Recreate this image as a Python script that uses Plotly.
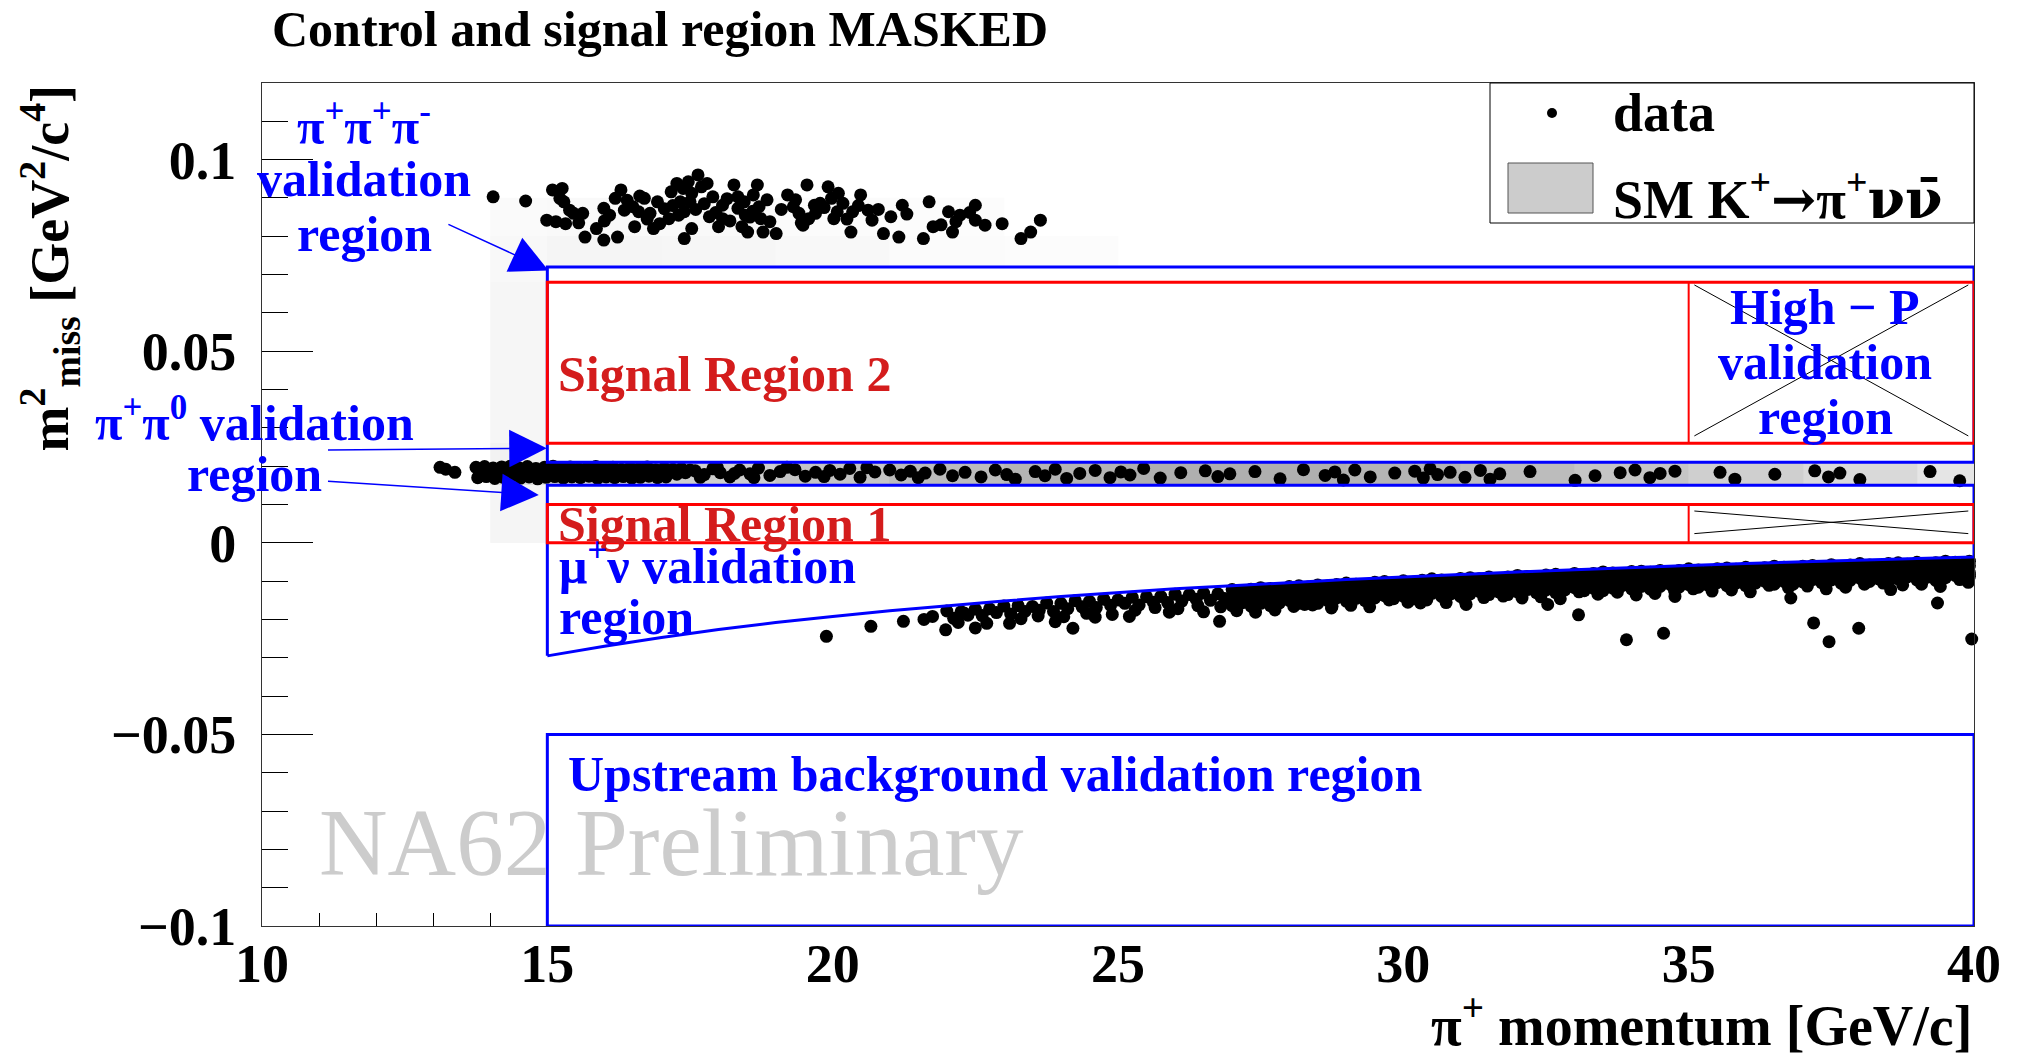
import plotly.graph_objects as go

# ---------------- axes ----------------
x_range = [10, 40]
y_range = [-0.1, 0.12]
x_tickvals = [10, 15, 20, 25, 30, 35, 40]
x_ticktext = ["10", "15", "20", "25", "30", "35", "40"]
x_minor_tickvals = [11, 12, 13, 14]
y_tickvals = [-0.1, -0.05, 0, 0.05, 0.1]
y_ticktext = ["\u22120.1", "\u22120.05", "0", "0.05", "0.1"]

# ---------------- data: K -> 3pi cluster ----------------
tp_p = [14.05,14.62,15.09,15.26,15.22,15.29,15.39,14.99,15.15,15.32,
        15.46,15.62,15.66,15.86,15.99,16.23,15.99,16.09,16.19,16.29,
        16.40,16.50,16.60,16.53,16.70,16.80,16.93,16.97,17.13,17.17,
        17.27,17.33,17.30,17.40,17.47,17.53,17.64,17.70,17.80,17.90,
        17.84,17.53,17.40,18.07,18.27,18.34,18.34,18.41,18.51,18.61,
        18.68,18.71,18.74,18.78,19.01,19.21,19.31,19.41,19.55,19.58,
        19.68,19.78,19.92,19.98,20.08,20.18,20.32,20.35,20.49,20.62,
        20.69,20.89,21.02,21.16,21.22,21.59,21.69,21.76,22.03,22.10,
        22.16,22.23,22.50,22.50,22.67,22.97,23.30,23.47,23.64,
        17.50,18.07,18.47,16.86,18.00,20.02,19.48,
        16.35,16.62,16.75,17.05,17.20,17.38,17.60,17.75,17.95,18.15,
        18.20,18.45,18.55,18.60,18.85,18.90,19.10,19.35,19.45,19.70,
        19.85,20.10,20.25,20.45,20.80,21.30,21.90,22.40,16.00,15.55]
tp_m2 = [0.0903,0.0892,0.0921,0.0925,0.0899,0.0890,0.0868,0.0842,0.0838,0.0833,
         0.0860,0.0860,0.0798,0.0820,0.0790,0.0798,0.0873,0.0855,0.0899,0.0921,
         0.0894,0.0877,0.0864,0.0825,0.0899,0.0860,0.0890,0.0833,0.0846,0.0916,
         0.0938,0.0890,0.0855,0.0864,0.0942,0.0912,0.0960,0.0929,0.0938,0.0903,
         0.0851,0.0820,0.0794,0.0846,0.0934,0.0903,0.0873,0.0825,0.0811,0.0908,
         0.0934,0.0877,0.0846,0.0811,0.0807,0.0908,0.0877,0.0860,0.0934,0.0846,
         0.0881,0.0886,0.0929,0.0899,0.0864,0.0886,0.0811,0.0864,0.0908,0.0868,
         0.0842,0.0807,0.0851,0.0798,0.0881,0.0794,0.0890,0.0825,0.0864,0.0811,
         0.0838,0.0855,0.0881,0.0842,0.0829,0.0833,0.0794,0.0811,0.0842,
         0.0890,0.0881,0.0855,0.0820,0.0825,0.0846,0.0829,
         0.0868,0.0905,0.0845,0.0872,0.0880,0.0925,0.0870,0.0885,0.0862,0.0898,
         0.0840,0.0890,0.0850,0.0865,0.0895,0.0838,0.0870,0.0895,0.0835,0.0860,
         0.0875,0.0912,0.0845,0.0880,0.0870,0.0858,0.0830,0.0862,0.0840,0.0835]

# ---------------- data: K -> pi+ pi0 band ----------------
pp_iso_p = [13.12, 13.22, 13.38]
pp_iso_m2 = [0.0197, 0.0192, 0.0184]
pp_a_p = [13.75,13.9,14.05,14.2,14.35,14.5,14.65,14.8,14.95,15.1,15.25,15.4,15.55,
          15.7,15.85,16.0,16.15,16.3,16.45,16.6,16.75,16.9,17.05,17.2,17.35,17.5]
pp_a_m2 = [0.0197,0.0199,0.0195,0.0198,0.0200,0.0196,0.0199,0.0194,0.0197,0.0200,0.0195,0.0198,0.0193,
           0.0196,0.0199,0.0194,0.0197,0.0192,0.0196,0.0193,0.0198,0.0191,0.0195,0.0192,0.0194,0.0190]
pp_b_p = [13.82,13.97,14.12,14.27,14.42,14.57,14.72,14.87,15.02,15.17,15.32,15.47,15.62,
          15.77,15.92,16.07,16.22,16.37,16.52,16.67,16.82,16.97,17.12,17.27,17.42]
pp_b_m2 = [0.0185,0.0182,0.0186,0.0183,0.0181,0.0185,0.0183,0.0186,0.0182,0.0184,0.0181,0.0185,0.0183,
           0.0180,0.0184,0.0182,0.0186,0.0181,0.0183,0.0185,0.0180,0.0184,0.0182,0.0179,0.0183]
pp_c_p = [13.78,13.93,14.08,14.23,14.38,14.53,14.68,14.83,14.98,15.13,15.28,15.43,
          15.58,15.73,15.88,16.03,16.18,16.33,16.48,16.63,16.78,16.93,17.08]
pp_c_m2 = [0.0170,0.0173,0.0168,0.0171,0.0174,0.0169,0.0172,0.0167,0.0171,0.0173,0.0169,0.0172,
           0.0170,0.0174,0.0168,0.0172,0.0170,0.0173,0.0169,0.0171,0.0174,0.0170,0.0172]
pp_mid_p = [17.59,17.75,17.9,18.03,18.2,18.37,18.55,18.7,18.9,19.08,19.34,19.52,
            19.7,19.95,20.13,20.3,20.48,20.74,21.0,21.2,21.36,21.62,21.88,22.1,
            17.68,17.98,18.28,18.62,19.2,19.85,20.6,21.5]
pp_mid_m2 = [0.0188,0.0178,0.0193,0.0183,0.0172,0.0190,0.0180,0.0195,0.0176,0.0186,0.0191,0.0174,
             0.0184,0.0189,0.0179,0.0194,0.0171,0.0185,0.0190,0.0177,0.0187,0.0182,0.0192,0.0175,
             0.0171,0.0196,0.0181,0.0170,0.0197,0.0173,0.0196,0.0170]
pp_hi_p = [22.32,22.6,22.85,23.05,23.2,23.55,23.72,23.9,24.1,24.33,
           24.6,24.86,25.05,25.21,25.45,25.74,26.1,26.53,26.75,26.96,
           27.4,27.84,28.25,28.63,28.8,28.95,29.15,29.42,29.85,30.2,
           30.35,30.47,30.6,30.82,31.08,31.35,31.52,31.69,32.22,33.01,
           33.36,33.8,34.06,34.32,34.5,34.76,35.55,35.81,36.51,37.21,
           37.45,37.65,38.0,39.23,39.75]
pp_hi_m2 = [0.0184,0.0172,0.0190,0.0178,0.0166,0.0186,0.0175,0.0192,0.0168,0.0181,
            0.0189,0.0170,0.0185,0.0177,0.0194,0.0169,0.0183,0.0188,0.0173,0.0180,
            0.0186,0.0167,0.0191,0.0176,0.0185,0.0164,0.0190,0.0172,0.0182,0.0187,
            0.0169,0.0193,0.0178,0.0184,0.0171,0.0189,0.0166,0.0180,0.0186,0.0163,
            0.0175,0.0183,0.0190,0.0170,0.0181,0.0187,0.0184,0.0166,0.0179,0.0188,
            0.0172,0.0182,0.0165,0.0186,0.0162]

# ---------------- data: K -> mu nu band ----------------
mu_sparse_p = [19.89,20.67,21.24,21.6,21.75,21.98,22.3,24.21,26.78,28.27,28.74,30.3,31.1,
               32.53,33.07,33.91,34.56,34.76,36.79,37.19,37.46,37.98,38.54,39.36,39.96]
mu_sparse_m2 = [-0.0244,-0.0218,-0.0205,-0.0200,-0.0192,-0.0227,-0.0183,-0.0223,-0.0205,-0.0161,-0.0170,-0.0157,-0.0161,
                -0.0161,-0.0188,-0.0253,-0.0236,-0.0140,-0.0144,-0.0209,-0.0258,-0.0223,-0.0122,-0.0157,-0.0251]
mu_mid1_p = [22.0,22.25,22.5,22.75,23.0,23.25,23.5,23.75,24.0,24.25,
             24.5,24.75,25.0,25.25,25.5,25.75,26.0,26.25,26.5,26.75]
mu_mid1_m2 = [-0.0178,-0.0180,-0.0173,-0.0172,-0.0165,-0.0164,-0.0166,-0.0157,-0.0158,-0.0151,
              -0.0153,-0.0147,-0.0149,-0.0142,-0.0141,-0.0140,-0.0134,-0.0135,-0.0131,-0.0133]
mu_mid2_p = [22.12,22.37,22.62,22.87,23.12,23.37,23.62,23.87,24.12,24.37,
             24.62,24.87,25.12,25.37,25.62,25.87,26.12,26.37,26.62,26.87]
mu_mid2_m2 = [-0.0197,-0.0189,-0.0190,-0.0182,-0.0186,-0.0179,-0.0176,-0.0179,-0.0172,-0.0167,
              -0.0169,-0.0163,-0.0158,-0.0162,-0.0155,-0.0156,-0.0152,-0.0147,-0.0150,-0.0145]
mu_mid3_p = [22.2,22.7,23.3,23.6,24.05,24.45,24.9,25.3,25.65,26.05,26.4,26.8]
mu_mid3_m2 = [-0.0208,-0.0210,-0.0198,-0.0191,-0.0193,-0.0184,-0.0187,-0.0176,-0.0169,-0.0172,-0.0164,-0.0167]
mu_mid4_p = [22.5,23.1,23.9,24.6,25.2,25.9,26.5]
mu_mid4_m2 = [-0.0222,-0.0210,-0.0206,-0.0194,-0.0192,-0.0181,-0.0180]
mu_dense_p = [27.0,27.17,27.33,27.5,27.67,27.83,28.0,28.17,28.33,28.5,28.67,28.83,29.0,29.17,29.33,
              29.5,29.67,29.83,30.0,30.17,30.33,30.5,30.67,30.83,31.0,31.17,31.33,31.5,31.67,31.83,
              32.0,32.17,32.33,32.5,32.67,32.83,33.0,33.17,33.33,33.5,33.67,33.83,34.0,34.17,34.33,
              34.5,34.67,34.83,35.0,35.17,35.33,35.5,35.67,35.83,36.0,36.17,36.33,36.5,36.67,36.83,
              37.0,37.17,37.33,37.5,37.67,37.83,38.0,38.17,38.33,38.5,38.67,38.83,39.0,39.17,39.33,
              39.5,39.67,39.83,39.92]
mu_dense_m2_1 = [-0.0122,-0.0125,-0.0121,-0.0117,-0.0119,-0.0121,-0.0114,-0.0112,-0.0115,-0.0110,
                 -0.0113,-0.0109,-0.0105,-0.0108,-0.0109,-0.0103,-0.0101,-0.0104,-0.0099,-0.0103,
                 -0.0098,-0.0094,-0.0097,-0.0099,-0.0093,-0.0091,-0.0094,-0.0089,-0.0093,-0.0089,
                 -0.0085,-0.0088,-0.0090,-0.0084,-0.0082,-0.0085,-0.0080,-0.0084,-0.0080,-0.0076,
                 -0.0079,-0.0081,-0.0075,-0.0074,-0.0077,-0.0072,-0.0076,-0.0072,-0.0068,-0.0071,
                 -0.0074,-0.0068,-0.0066,-0.0069,-0.0064,-0.0068,-0.0065,-0.0061,-0.0064,-0.0066,
                 -0.0061,-0.0059,-0.0062,-0.0057,-0.0062,-0.0058,-0.0054,-0.0058,-0.0060,-0.0054,
                 -0.0052,-0.0056,-0.0051,-0.0055,-0.0052,-0.0048,-0.0051,-0.0054,-0.0048]
mu_dense_m2_2 = [-0.0140,-0.0133,-0.0130,-0.0134,-0.0135,-0.0129,-0.0125,-0.0130,-0.0124,-0.0121,
                 -0.0124,-0.0126,-0.0120,-0.0117,-0.0121,-0.0115,-0.0112,-0.0116,-0.0118,-0.0112,
                 -0.0108,-0.0113,-0.0107,-0.0104,-0.0108,-0.0110,-0.0104,-0.0101,-0.0106,-0.0100,
                 -0.0097,-0.0101,-0.0103,-0.0097,-0.0094,-0.0099,-0.0093,-0.0090,-0.0094,-0.0096,
                 -0.0090,-0.0087,-0.0092,-0.0087,-0.0084,-0.0088,-0.0090,-0.0084,-0.0081,-0.0086,
                 -0.0081,-0.0078,-0.0082,-0.0084,-0.0078,-0.0075,-0.0081,-0.0075,-0.0072,-0.0076,
                 -0.0079,-0.0073,-0.0070,-0.0075,-0.0070,-0.0067,-0.0071,-0.0074,-0.0068,-0.0065,
                 -0.0070,-0.0065,-0.0062,-0.0066,-0.0069,-0.0063,-0.0060,-0.0066,-0.0060]
mu_dense_m2_3 = [-0.0146,-0.0150,-0.0146,-0.0150,-0.0141,-0.0143,-0.0144,-0.0138,-0.0135,-0.0140,
                 -0.0135,-0.0139,-0.0131,-0.0133,-0.0134,-0.0128,-0.0125,-0.0130,-0.0126,-0.0130,
                 -0.0121,-0.0123,-0.0125,-0.0119,-0.0116,-0.0121,-0.0117,-0.0121,-0.0113,-0.0115,
                 -0.0117,-0.0111,-0.0108,-0.0113,-0.0109,-0.0113,-0.0105,-0.0107,-0.0109,-0.0103,
                 -0.0100,-0.0105,-0.0101,-0.0106,-0.0098,-0.0100,-0.0102,-0.0096,-0.0093,-0.0098,
                 -0.0095,-0.0099,-0.0091,-0.0093,-0.0095,-0.0089,-0.0087,-0.0092,-0.0088,-0.0092,
                 -0.0085,-0.0087,-0.0089,-0.0083,-0.0081,-0.0086,-0.0082,-0.0087,-0.0079,-0.0081,
                 -0.0083,-0.0078,-0.0075,-0.0080,-0.0077,-0.0081,-0.0073,-0.0076,-0.0078]
mu_dense_m2_4 = [-0.0164,-0.0157,-0.0165,-0.0158,-0.0164,-0.0157,-0.0150,-0.0158,-0.0151,-0.0158,
                 -0.0150,-0.0144,-0.0152,-0.0145,-0.0151,-0.0144,-0.0138,-0.0146,-0.0139,-0.0146,
                 -0.0138,-0.0132,-0.0140,-0.0133,-0.0140,-0.0133,-0.0127,-0.0135,-0.0128,-0.0135,
                 -0.0128,-0.0122,-0.0130,-0.0123,-0.0130,-0.0123,-0.0117,-0.0125,-0.0118,-0.0125,
                 -0.0118,-0.0112,-0.0120,-0.0114,-0.0121,-0.0114,-0.0108,-0.0116,-0.0109,-0.0116,
                 -0.0110,-0.0104,-0.0112,-0.0105,-0.0112,-0.0105,-0.0100,-0.0108,-0.0101,-0.0108,
                 -0.0102,-0.0096,-0.0104,-0.0097,-0.0105,-0.0098,-0.0092,-0.0101,-0.0094,-0.0101,
                 -0.0094,-0.0089,-0.0097,-0.0090,-0.0098,-0.0091,-0.0085,-0.0094,-0.0087]
mu_low_p = [27.08,27.41,27.75,28.08,28.41,28.75,29.08,29.41,29.75,30.08,30.41,30.75,31.08,31.41,
            31.75,32.08,32.41,32.75,33.08,33.41,33.75,34.08,34.41,34.75,35.08,35.41,35.75,36.08,
            36.41,36.75,37.08,37.41,37.75,38.08,38.41,38.75,39.08,39.41,39.75,39.9]
mu_low_m2 = [-0.0177,-0.0181,-0.0175,-0.0166,-0.0162,-0.0166,-0.0163,-0.0167,-0.0149,-0.0155,
             -0.0149,-0.0156,-0.0151,-0.0143,-0.0139,-0.0144,-0.0141,-0.0146,-0.0128,-0.0134,
             -0.0129,-0.0136,-0.0132,-0.0124,-0.0120,-0.0126,-0.0123,-0.0128,-0.0111,-0.0117,
             -0.0113,-0.0120,-0.0116,-0.0108,-0.0105,-0.0110,-0.0108,-0.0114,-0.0096,-0.0103]

# ---------------- SM K+ -> pi+ nu nubar (2D histogram, masked) ----------------
N = None
sm_p_edges = [14.0, 15.0, 17.0, 19.0, 21.0, 23.0, 25.0, 27.0, 29.0, 31.0, 33.0, 35.0, 37.0, 39.0, 40.0]
sm_m2_edges = [0.0, 0.015, 0.021, 0.026, 0.068, 0.072, 0.080, 0.090]
sm_weight = [
    [0.07, N, N, N, N, N, N, N, N, N, N, N, N, N],
    [0.22, 0.26, 0.33, 0.40, 0.46, 0.52, 0.55, 0.55, 0.52, 0.46, 0.40, 0.33, 0.26, 0.18],
    [0.09, N, N, N, N, N, N, N, N, N, N, N, N, N],
    [0.06, N, N, N, N, N, N, N, N, N, N, N, N, N],
    [0.05, N, N, N, N, N, N, N, N, N, N, N, N, N],
    [0.05, 0.07, 0.06, 0.045, 0.03, 0.02, N, N, N, N, N, N, N, N],
    [0.035, 0.04, 0.04, 0.03, 0.02, N, N, N, N, N, N, N, N, N],
]

# ---------------- regions ----------------
p_lo, p_hi, p_highp = 15, 40, 35
sr1_m2 = [0.0, 0.010]
sr2_m2 = [0.026, 0.068]
upper_val_box_m2 = [0.021, 0.072]
mu_box_top_m2 = 0.015
upstream_m2 = [-0.1, -0.05]
mu_curve_p = [15,16,17,18,19,20,21,22,23,24,25,26,27,28,29,30,31,32,33,34,35,36,37,38,39,40]
mu_curve_m2 = [-0.0295,-0.0270,-0.0247,-0.0226,-0.0208,-0.0192,-0.0177,-0.0164,-0.0152,-0.0140,
               -0.0130,-0.0120,-0.0112,-0.0103,-0.0096,-0.0089,-0.0082,-0.0076,-0.0070,-0.0064,
               -0.0059,-0.0054,-0.0050,-0.0045,-0.0041,-0.0037]
cross_p = [35.1, 39.9]
cross_sr2_m2 = [0.0673, 0.0279]
cross_sr1_m2 = [0.0083, 0.0024]

# arrows: (tail_p, tail_m2, head_p, head_m2)
arrows = [
    (13.24, 0.0833, 15.02, 0.0711),
    (11.13, 0.0242, 14.99, 0.0247),
    (11.13, 0.0161, 14.85, 0.0125),
]

FONT = "Liberation Serif"
SYM = "DejaVu Serif"
BLUE = "#0000ff"
RED = "#ff0000"
RED_TEXT = "#d41c1c"


def px(xp):
    return (xp - 262) / 1712


def py(yp):
    return (926 - yp) / 843


fig = go.Figure()

fig.add_trace(go.Heatmap(
    x=sm_p_edges, y=sm_m2_edges, z=sm_weight,
    colorscale=[[0, "#ffffff"], [1, "#6e6e6e"]], zmin=0, zmax=1,
    showscale=False, hoverinfo="skip"))

data_p = (tp_p + pp_iso_p + pp_a_p + pp_b_p + pp_c_p + pp_mid_p + pp_hi_p
          + mu_sparse_p + mu_mid1_p + mu_mid2_p + mu_mid3_p + mu_mid4_p
          + mu_dense_p * 4 + mu_low_p)
data_m2 = (tp_m2 + pp_iso_m2 + pp_a_m2 + pp_b_m2 + pp_c_m2 + pp_mid_m2 + pp_hi_m2
           + mu_sparse_m2 + mu_mid1_m2 + mu_mid2_m2 + mu_mid3_m2 + mu_mid4_m2
           + mu_dense_m2_1 + mu_dense_m2_2 + mu_dense_m2_3 + mu_dense_m2_4 + mu_low_m2)

fig.add_trace(go.Scatter(
    x=data_p, y=data_m2, mode="markers", name="data",
    marker=dict(color="black", size=13, line=dict(width=0)),
    cliponaxis=False, showlegend=False, hoverinfo="skip"))

# mu nu validation region boundary
mu_poly_p = [mu_curve_p[0], p_lo, p_hi] + mu_curve_p[::-1]
mu_poly_m2 = [mu_curve_m2[0], mu_box_top_m2, mu_box_top_m2] + mu_curve_m2[::-1]
fig.add_trace(go.Scatter(
    x=mu_poly_p, y=mu_poly_m2, mode="lines",
    line=dict(color=BLUE, width=3), showlegend=False, hoverinfo="skip", cliponaxis=False))

shapes = []
shapes.append(dict(type="rect", xref="x", yref="y", x0=p_lo, x1=p_hi,
                   y0=upper_val_box_m2[0], y1=upper_val_box_m2[1], line=dict(color=BLUE, width=3)))
shapes.append(dict(type="rect", xref="x", yref="y", x0=p_lo, x1=p_hi,
                   y0=upstream_m2[0], y1=upstream_m2[1], line=dict(color=BLUE, width=3)))
for lo, hi in (sr1_m2, sr2_m2):
    shapes.append(dict(type="rect", xref="x", yref="y", x0=p_lo, x1=p_hi, y0=lo, y1=hi,
                       line=dict(color=RED, width=3)))
    shapes.append(dict(type="line", xref="x", yref="y", x0=p_highp, x1=p_highp, y0=lo, y1=hi,
                       line=dict(color=RED, width=2)))
for ys in (cross_sr2_m2, cross_sr1_m2):
    shapes.append(dict(type="line", xref="x", yref="y", x0=cross_p[0], x1=cross_p[1],
                       y0=ys[0], y1=ys[1], line=dict(color="black", width=1)))
    shapes.append(dict(type="line", xref="x", yref="y", x0=cross_p[0], x1=cross_p[1],
                       y0=ys[1], y1=ys[0], line=dict(color="black", width=1)))
# legend
shapes.append(dict(type="rect", xref="paper", yref="paper", x0=px(1490), x1=px(1974),
                   y0=py(223), y1=py(83), line=dict(color="black", width=1), fillcolor="white"))
shapes.append(dict(type="rect", xref="paper", yref="paper", x0=px(1508), x1=px(1593),
                   y0=py(213), y1=py(163), line=dict(color="#555555", width=1), fillcolor="#cccccc"))
shapes.append(dict(type="circle", xref="paper", yref="paper", xsizemode="pixel", ysizemode="pixel",
                   xanchor=px(1552), yanchor=py(113), x0=-5, x1=5, y0=-5, y1=5,
                   fillcolor="black", line=dict(color="black", width=0)))

annotations = []


def label(text, x, y, size, color, xanchor="left", bold=True, yanchor="middle"):
    t = "<b>" + text + "</b>" if bold else text
    annotations.append(dict(text=t, xref="paper", yref="paper", x=px(x), y=py(y),
                            xanchor=xanchor, yanchor=yanchor, showarrow=False,
                            font=dict(family=FONT, size=size, color=color)))


label("Control and signal region MASKED", 270, 29, 50, "black")
label("\u03c0<sup>+</sup>\u03c0<sup>+</sup>\u03c0<sup>-</sup>", 364, 124, 50, BLUE, "center")
label("validation", 364, 179, 50, BLUE, "center")
label("region", 364, 234, 50, BLUE, "center")
label("\u03c0<sup>+</sup>\u03c0<sup>0</sup> validation", 254, 419, 50, BLUE, "center")
label("region", 254, 474, 50, BLUE, "center")
label("Signal Region 2", 556, 374, 50, RED_TEXT)
label("Signal Region 1", 556, 524, 50, RED_TEXT)
label("\u03bc<sup>+</sup>\u03bd validation", 557, 562, 50, BLUE)
label("region", 557, 617, 50, BLUE)
label("High \u2212 P", 1825, 307, 50, BLUE, "center")
label("validation", 1825, 362, 50, BLUE, "center")
label("region", 1825, 417, 50, BLUE, "center")
label("Upstream background validation region", 566, 774, 50, BLUE)
label("NA62 Preliminary", 317, 843, 95, "#cccccc", bold=False)
label("\u03c0<sup>+</sup> momentum [GeV/c]", 1974, 1021, 56, "black", "right")
label("data", 1611, 113, 54, "black")
label("SM K<sup>+</sup><span style=\"font-family:'" + SYM + "'\">\u2192</span>\u03c0<sup>+</sup>"
      "<span style=\"font-family:'" + SYM + "'\">\u03bd\u03bd\u0304</span>", 1611, 196, 54, "black")

annotations.append(dict(
    text="<b>m<sup>2</sup><sub>miss</sub> [GeV<sup>2</sup>/c<sup>4</sup>]</b>",
    xref="paper", yref="paper", x=px(49), y=py(83), xanchor="center", yanchor="top",
    textangle=-90, showarrow=False, font=dict(family=FONT, size=54, color="black")))

for tp, tm, hp, hm in arrows:
    annotations.append(dict(
        x=hp, y=hm, ax=tp, ay=tm, xref="x", yref="y", axref="x", ayref="y",
        text="", showarrow=True, arrowhead=2, arrowsize=5, arrowwidth=1.5,
        arrowcolor=BLUE, standoff=0))

fig.update_layout(
    width=2018, height=1056,
    margin=dict(l=262, r=44, t=83, b=130, pad=0),
    paper_bgcolor="white", plot_bgcolor="white",
    font=dict(family=FONT, color="black"),
    showlegend=False,
    shapes=shapes, annotations=annotations,
    xaxis=dict(
        range=x_range, tickmode="array", tickvals=x_tickvals, ticktext=x_ticktext,
        ticks="", showgrid=False, zeroline=False,
        showline=True, mirror=True, linecolor="#333333", linewidth=1,
        tickfont=dict(family=FONT, size=54, color="black", weight="bold"),
        ticklabelstandoff=-10,
        minor=dict(tickmode="array", tickvals=x_minor_tickvals, ticks="inside",
                   ticklen=13, tickcolor="black", tickwidth=1, showgrid=False),
    ),
    yaxis=dict(
        range=y_range, tickmode="array", tickvals=y_tickvals, ticktext=y_ticktext,
        ticks="inside", ticklen=51, tickcolor="black", tickwidth=1,
        showgrid=False, zeroline=False,
        showline=True, mirror=True, linecolor="#333333", linewidth=1,
        tickfont=dict(family=FONT, size=54, color="black", weight="bold"),
        ticklabelstandoff=14,
        minor=dict(tick0=0, dtick=0.01, ticks="inside", ticklen=26,
                   tickcolor="black", tickwidth=1, showgrid=False),
    ),
)

fig.write_html("out.html")
